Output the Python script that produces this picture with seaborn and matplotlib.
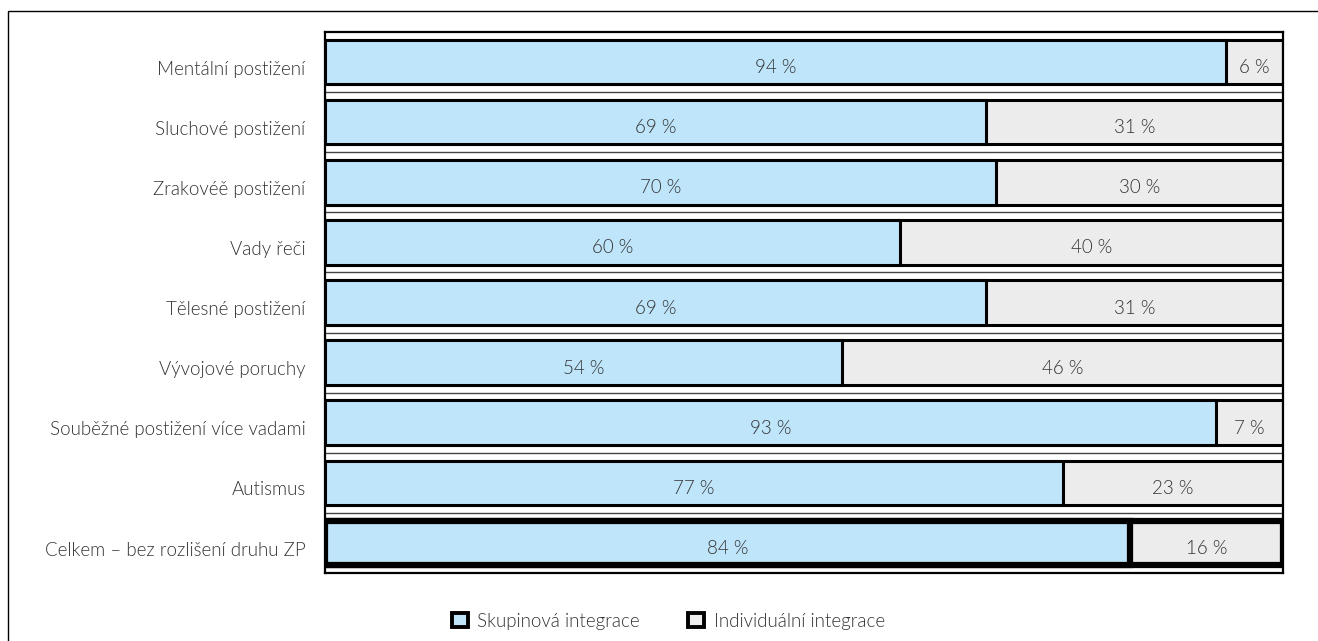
import matplotlib
matplotlib.use("Agg")
import matplotlib.pyplot as plt
import matplotlib.transforms as mtransforms
from matplotlib.patches import Rectangle, Patch
import seaborn as sns
import pandas as pd

categories = [
    "Mentální postižení",
    "Sluchové postižení",
    "Zrakovéě postižení",
    "Vady řeči",
    "Tělesné postižení",
    "Vývojové poruchy",
    "Souběžné postižení více vadami",
    "Autismus",
    "Celkem – bez rozlišení druhu ZP",
]
skupinova = [94, 69, 70, 60, 69, 54, 93, 77, 84]
individualni = [6, 31, 30, 40, 31, 46, 7, 23, 16]
series_names = ["Skupinová integrace", "Individuální integrace"]

BLUE = "#BEE5F9"
GRAY = "#ECECEC"
TXT = "#333333"
FS = 13.5
FW = 300

sns.set_theme(style="white")
plt.rcParams["font.family"] = ["Lato", "DejaVu Sans"]
plt.rcParams["font.weight"] = FW

df = pd.DataFrame({
    "kategorie": categories,
    "skup": skupinova,
    "celkem": [a + b for a, b in zip(skupinova, individualni)],
})

fig = plt.figure(figsize=(13.18, 6.41), dpi=100)
ax = fig.add_axes([325 / 1318, 1 - 573 / 641, (1283 - 325) / 1318, (573 - 32) / 641])

bar_h = 0.74
sns.barplot(data=df, x="celkem", y="kategorie", orient="h", color=GRAY,
            saturation=1, width=bar_h, edgecolor="black", linewidth=2.2, ax=ax)
sns.barplot(data=df, x="skup", y="kategorie", orient="h", color=BLUE,
            saturation=1, width=bar_h, edgecolor="black", linewidth=2.2, ax=ax)

n = len(categories)
for p in ax.patches:
    yc = p.get_y() + p.get_height() / 2
    if abs(yc - (n - 1)) < 0.01:
        p.set_linewidth(4.5)

for i in range(n - 1):
    ax.axhline(i + 0.5, color="#444444", lw=1.0, zorder=0.5)

down = mtransforms.offset_copy(ax.transData, fig=fig, x=0, y=-4, units="points")
for i, (a, b) in enumerate(zip(skupinova, individualni)):
    ax.text(a / 2, i, f"{a} %", ha="center", va="center", fontsize=FS,
            color=TXT, fontweight=FW, transform=down)
    ax.text(a + b / 2, i, f"{b} %", ha="center", va="center", fontsize=FS,
            color=TXT, fontweight=FW, transform=down)

ax.set_xlim(0, 100)
ax.set_ylim(n - 0.5, -0.5)
ax.set_xlabel("")
ax.set_ylabel("")
ax.set_xticks([])
ax.tick_params(axis="y", length=0, pad=14, labelsize=FS, labelcolor=TXT)
shift = mtransforms.ScaledTranslation(0, -4 / 72, fig.dpi_scale_trans)
for lbl in ax.get_yticklabels():
    lbl.set_transform(lbl.get_transform() + shift)
    lbl.set_fontweight(FW)
for s in ax.spines.values():
    s.set_visible(True)
    s.set_color("black")
    s.set_linewidth(1.6)

handles = [Patch(facecolor=BLUE, edgecolor="black", linewidth=2.8),
           Patch(facecolor=GRAY, edgecolor="black", linewidth=2.8)]
fig.legend(handles, series_names, loc="center", bbox_to_anchor=(0.507, 1 - 621 / 641),
           ncol=2, frameon=False, fontsize=FS, handlelength=0.85, handleheight=0.85,
           handletextpad=0.5, columnspacing=2.6, labelcolor=TXT,
           prop={"weight": FW, "size": FS})

fig.patches.append(Rectangle((8 / 1318, -0.05), 1.0, 1 - 11 / 641 + 0.05,
                             transform=fig.transFigure, fill=False,
                             edgecolor="black", linewidth=1.0))

fig.savefig("out.png", dpi=100)
